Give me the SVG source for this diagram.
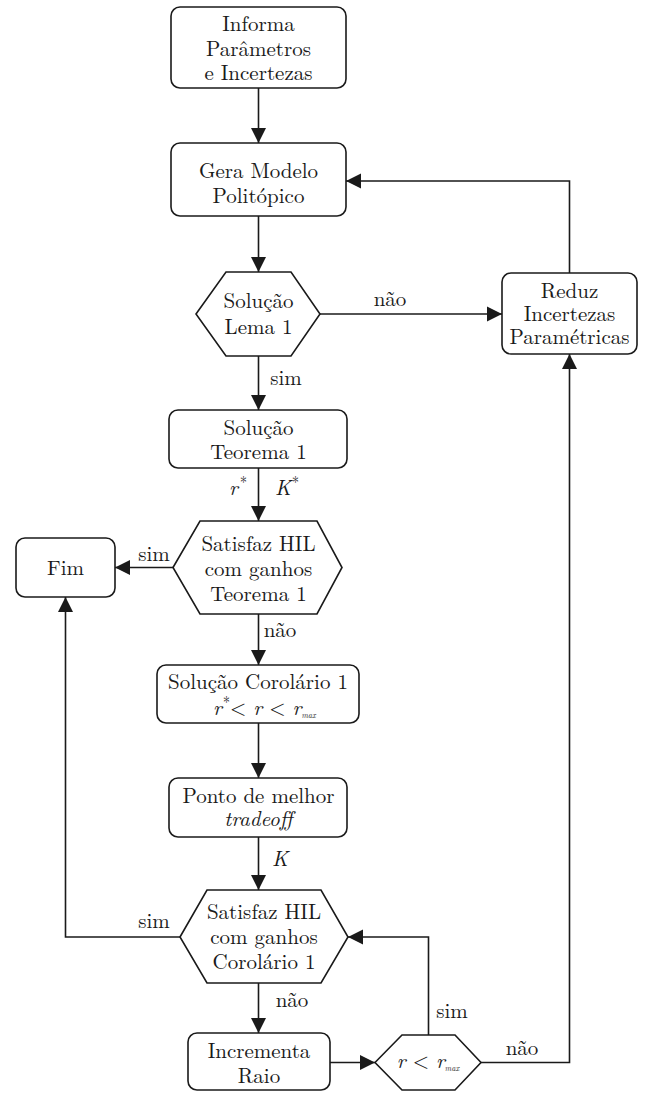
<svg xmlns="http://www.w3.org/2000/svg" width="646" height="1093" viewBox="0 0 646 1093">
<style>
.box{fill:#fff;stroke:#1a1a1a;stroke-width:1.6}
.ln{fill:none;stroke:#1a1a1a;stroke-width:1.6}
.t{font-size:21px;fill:#1a1a1a;text-anchor:middle}
.s{font-size:21px;fill:#1a1a1a}
.it{font-style:italic}
</style>
<defs>
<marker id="ah" markerUnits="userSpaceOnUse" markerWidth="16" markerHeight="16" refX="15" refY="8" orient="auto">
<path d="M0,0.5 L15,8 L0,15.5 z" fill="#1a1a1a"/>
</marker>
</defs>
<rect width="646" height="1093" fill="#fff"/>
<g font-family="Latin Modern Roman, Liberation Serif, serif">
<g id="connectors">
<path class="ln" d="M258.5,88 V143" marker-end="url(#ah)"/>
<path class="ln" d="M258.5,216 V272" marker-end="url(#ah)"/>
<path class="ln" d="M320,314 H502" marker-end="url(#ah)"/>
<path class="ln" d="M569.5,273 V181 H346" marker-end="url(#ah)"/>
<path class="ln" d="M258.5,356 V410" marker-end="url(#ah)"/>
<path class="ln" d="M258.5,468 V521" marker-end="url(#ah)"/>
<path class="ln" d="M173,567.5 H115" marker-end="url(#ah)"/>
<path class="ln" d="M258.5,614 V665" marker-end="url(#ah)"/>
<path class="ln" d="M258.5,723 V778" marker-end="url(#ah)"/>
<path class="ln" d="M258.5,837 V890" marker-end="url(#ah)"/>
<path class="ln" d="M180,937 H65.5 V597" marker-end="url(#ah)"/>
<path class="ln" d="M258.5,983 V1033" marker-end="url(#ah)"/>
<path class="ln" d="M330,1062.5 H375" marker-end="url(#ah)"/>
<path class="ln" d="M428.5,1035 V937 H348" marker-end="url(#ah)"/>
<path class="ln" d="M481,1062.5 H569.5 V354" marker-end="url(#ah)"/>
<text class="t" x="390" y="306">não</text>
<text class="t" x="286" y="385">sim</text>
<text class="t" x="238" y="495"><tspan class="it">r</tspan><tspan dx="2" dy="-8" font-size="14">*</tspan></text>
<text class="t" x="287" y="495"><tspan class="it">K</tspan><tspan dx="1" dy="-8" font-size="14">*</tspan></text>
<text class="t" x="154" y="561">sim</text>
<text class="t" x="280" y="637">não</text>
<text class="t it" x="280" y="866">K</text>
<text class="t" x="154" y="928">sim</text>
<text class="t" x="292" y="1007">não</text>
<text class="t" x="452" y="1018">sim</text>
<text class="t" x="522" y="1055">não</text>
</g>
<g id="n1">
<rect class="box" x="171" y="7" width="175" height="81" rx="9"/>
<text class="t" x="258.5" y="31">Informa</text>
<text class="t" x="258.5" y="56">Parâmetros</text>
<text class="t" x="258.5" y="80">e Incertezas</text>
</g>
<g id="n2">
<rect class="box" x="171" y="143" width="175" height="73" rx="9"/>
<text class="t" x="258.5" y="178">Gera Modelo</text>
<text class="t" x="258.5" y="203">Politópico</text>
</g>
<g id="n3">
<polygon class="box" points="196,314 226,272 291,272 320,314 291,356 226,356"/>
<text class="t" x="258.5" y="308">Solução</text>
<text class="t" x="258.5" y="334">Lema 1</text>
</g>
<g id="n4">
<rect class="box" x="502" y="273" width="135" height="81" rx="9"/>
<text class="t" x="569.5" y="298">Reduz</text>
<text class="t" x="569.5" y="321">Incertezas</text>
<text class="t" x="569.5" y="344">Paramétricas</text>
</g>
<g id="n5">
<rect class="box" x="169" y="410" width="178" height="58" rx="9"/>
<text class="t" x="258.5" y="435">Solução</text>
<text class="t" x="258.5" y="459">Teorema 1</text>
</g>
<g id="n6">
<polygon class="box" points="173,567.5 200,521 317,521 342,567.5 317,614 200,614"/>
<text class="t" x="258.5" y="551">Satisfaz HIL</text>
<text class="t" x="258.5" y="576">com ganhos</text>
<text class="t" x="258.5" y="601">Teorema 1</text>
</g>
<g id="n7">
<rect class="box" x="16" y="538" width="99" height="59" rx="9"/>
<text class="t" x="65.5" y="575">Fim</text>
</g>
<g id="n8">
<rect class="box" x="157" y="665" width="202" height="58" rx="9"/>
<text class="t" x="258" y="689">Solução Corolário 1</text>
<text class="s" x="213" y="715"><tspan class="it">r</tspan><tspan font-size="14" x="223" y="707">*</tspan><tspan x="230" y="715">&lt; </tspan><tspan class="it">r</tspan> &lt; <tspan class="it">r</tspan><tspan font-size="8" dy="3" class="it">max</tspan></text>
</g>
<g id="n9">
<rect class="box" x="169" y="778" width="178" height="59" rx="9"/>
<text class="t" x="258.5" y="803">Ponto de melhor</text>
<text class="t it" x="258.5" y="826">tradeoff</text>
</g>
<g id="n10">
<polygon class="box" points="180,937 207,890 321,890 348,937 321,983 207,983"/>
<text class="t" x="264" y="919">Satisfaz HIL</text>
<text class="t" x="264" y="944">com ganhos</text>
<text class="t" x="264" y="969">Corolário 1</text>
</g>
<g id="n11">
<rect class="box" x="188" y="1033" width="142" height="57" rx="9"/>
<text class="t" x="259" y="1058">Incrementa</text>
<text class="t" x="259" y="1083">Raio</text>
</g>
<g id="n12">
<polygon class="box" points="375,1062.5 402,1035 455,1035 481,1062.5 455,1090 402,1090"/>
<text class="t" x="428" y="1068"><tspan class="it">r</tspan> &lt; <tspan class="it">r</tspan><tspan font-size="8" dy="3" class="it">max</tspan></text>
</g>
</g>
</svg>
